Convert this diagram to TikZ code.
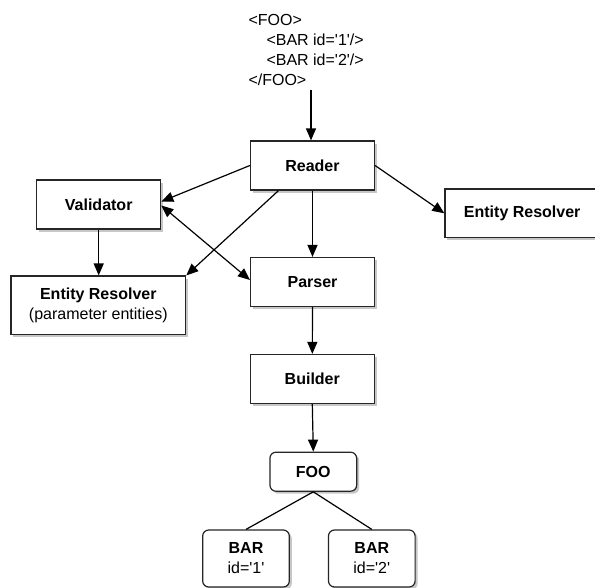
\documentclass[tikz,border=0pt]{standalone}
\usepackage{fontspec}
\setmainfont{Liberation Sans}
\usetikzlibrary{arrows.meta,shadows}
\newcommand{\sq}{\textquotesingle}
\begin{document}
\begin{tikzpicture}[x=1pt,y=-1pt,
  font=\fontsize{16}{20}\selectfont,
  box/.style={draw=black!85, line width=1.2pt, fill=white,
    drop shadow={shadow xshift=2.5pt, shadow yshift=-2.5pt, fill=black!22, opacity=1},
    inner sep=0pt, align=center, font=\fontsize{16}{20}\selectfont\bfseries,
    minimum width=124pt, minimum height=49pt},
  rbox/.style={box, rounded corners=6pt, minimum width=86.7pt},
  conn/.style={draw=black, line width=1.2pt},
  arr/.style={conn, -{Triangle[length=12pt,width=10pt]}},
  darr/.style={conn, {Triangle[length=12pt,width=10pt]}-{Triangle[length=12pt,width=10pt]}}
]
\useasboundingbox (0,0) rectangle (595,587);
\fill[white] (0,0) rectangle (595,587);

\node[anchor=base west, align=left, inner sep=0pt] (xml) at (248.3,85)
  {<FOO>\\\hspace*{18pt}<BAR id=\sq1\sq/>\\\hspace*{18pt}<BAR id=\sq2\sq/>\\</FOO>};
\coordinate (src) at (311,90);

\node[box] (reader) at (312.5,165.5) {Reader};
\node[box] (validator) at (98.7,204.5) {Validator};
\node[box, minimum width=154.5pt, minimum height=48.7pt] (erright) at (522.2,213.3) {Entity Resolver};
\node[box, minimum width=174.7pt, minimum height=58.3pt] (erp) at (98.3,305.2)
  {Entity Resolver\\\mdseries(parameter entities)};
\node[box] (parser) at (312.5,282) {Parser};
\node[box] (builder) at (312.3,379) {Builder};
\node[rbox, minimum height=39pt] (foo) at (313.3,471.7) {FOO};
\node[rbox, minimum width=86.6pt, minimum height=57pt] (bar1) at (246,558.5) {BAR\\\mdseries id=\sq1\sq};
\node[rbox, minimum width=86.6pt, minimum height=57pt] (bar2) at (371.8,558.5) {BAR\\\mdseries id=\sq2\sq};

\draw[arr] (src) -- (src |- reader.north);
\draw[arr] (reader.west) -- ([yshift=3pt]validator.east);
\draw[darr] ([yshift=-1pt]validator.east) -- ([yshift=2pt]parser.west);
\draw[arr] ([xshift=-34pt]reader.south) -- (erp.north east);
\draw[arr] (reader.east) -- (erright.west);
\draw[arr] (validator.south) -- (validator.south |- erp.north);
\draw[arr] (reader.south) -- (parser.north);
\draw[arr] (parser.south) -- (builder.north);
\draw[arr] (builder.south) -- (foo.north);
\draw[conn] (foo.south) -- (bar1.north);
\draw[conn] (foo.south) -- (bar2.north);
\end{tikzpicture}
\end{document}
